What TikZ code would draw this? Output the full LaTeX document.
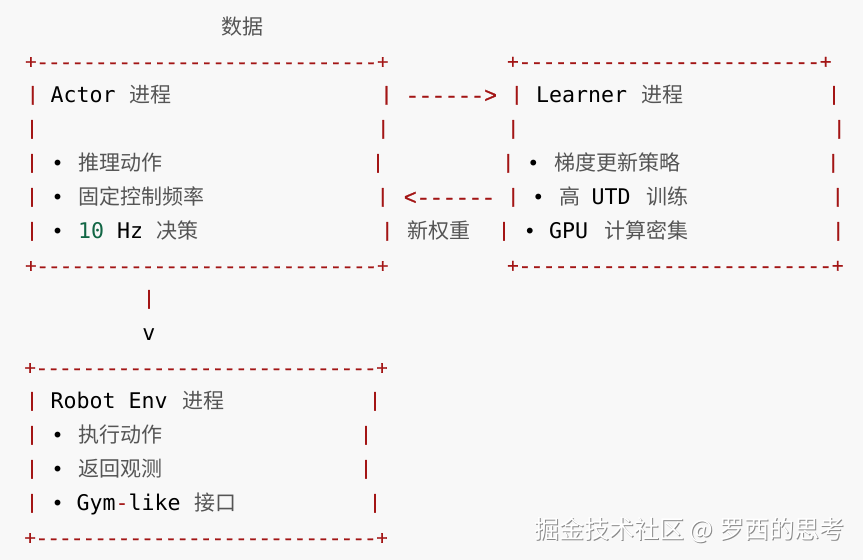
\documentclass[tikz,border=0pt]{standalone}
\usepackage{fontspec}
\usepackage{xcolor}
\setmonofont{Liberation Mono}[FakeBold=1.2]
\newfontfamily\codefont{DejaVu Sans Mono}
\newfontfamily\cjkfont{Noto Sans CJK SC}
\definecolor{bgpaper}{HTML}{F8F8F8}
\definecolor{linered}{HTML}{A31515}
\definecolor{numgreen}{HTML}{116644}
\definecolor{zhgray}{HTML}{555555}
\definecolor{markgray}{HTML}{8A8A8A}
\newcommand\dashrun[1]{\foreach\k in {1,...,#1}{-}}

\begin{document}
\begin{tikzpicture}[x=1pt, y=-1pt,
      txt/.style={inner sep=0pt, anchor=base west},
      border/.style={txt, text=linered, font=\ttfamily\fontsize{19.55}{20}\selectfont},
      rborder/.style={border, font=\ttfamily\fontsize{20.05}{20}\selectfont},
      flow/.style={border, font=\ttfamily\fontsize{21.7}{22}\selectfont},
      bar/.style={inner sep=0pt, anchor=base, yshift=2pt, text=linered,
                  font=\ttfamily\fontsize{20}{20}\selectfont},
      dot/.style={inner sep=0pt, anchor=base, font=\codefont\fontsize{20}{20}\selectfont},
      latin/.style={txt, text=black, font=\codefont\fontsize{21.6}{22}\selectfont},
      zh/.style={txt, text=zhgray, font=\cjkfont\fontsize{21}{22}\selectfont},
      wmark/.style={txt, font=\cjkfont\fontsize{25}{25}\selectfont},
    ]

    % Background
    \fill[bgpaper] (0,0) rectangle (863,560);

    % Label over the data arrow
    \node[zh] (datalbl) at (221, 34.5) {数据};

    % Actor box
    \node[border] (actortop) at (24.8, 68.5) {+\dashrun{29}+};
    \node[bar] (a2l) at (32.7, 102.5) {|};
    \node[latin] (actorname) at (50.5, 102.5) {Actor};
    \node[zh] (actorproc) at (129, 102.5) {进程};
    \node[bar] (a2r) at (386.5, 102.5) {|};
    \node[bar] (a3l) at (32, 136.5) {|};
    \node[bar] (a3r) at (383.3, 136.5) {|};
    \node[bar] (a4l) at (32, 170.5) {|};
    \node[dot] (a4d) at (57.7, 170.5) {•};
    \node[zh] (infer) at (78, 170.5) {推理动作};
    \node[bar] (a4r) at (378, 170.5) {|};
    \node[bar] (a5l) at (32, 204.5) {|};
    \node[dot] (a5d) at (57.7, 204.5) {•};
    \node[zh] (fixrate) at (78, 204.5) {固定控制频率};
    \node[bar] (a5r) at (382.7, 204.5) {|};
    \node[bar] (a6l) at (32, 238.5) {|};
    \node[dot] (a6d) at (57.7, 238.5) {•};
    \node[latin] (hz) at (78, 238.5) {\textcolor{numgreen}{10} Hz};
    \node[zh] (decide) at (156.5, 238.5) {决策};
    \node[bar] (a6r) at (387.3, 238.5) {|};
    \node[border] (actorbot) at (24.8, 272.5) {+\dashrun{29}+};

    % Data and weight flows
    \node[flow] (dataflow) at (405.7, 102.5) {------>};
    \node[flow] (weightflow) at (403.6, 204.5) {<------};
    \node[zh] (weightlbl) at (407, 238.5) {新权重};

    % Learner box
    \node[rborder] (learnertop) at (506.7, 68.5) {+\dashrun{25}+};
    \node[bar] (l2l) at (516.7, 102.5) {|};
    \node[latin] (learnername) at (536, 102.5) {Learner};
    \node[zh] (learnerproc) at (641, 102.5) {进程};
    \node[bar] (l2r) at (834, 102.5) {|};
    \node[bar] (l3l) at (513.3, 136.5) {|};
    \node[bar] (l3r) at (839.3, 136.5) {|};
    \node[bar] (l4l) at (508.3, 170.5) {|};
    \node[dot] (l4d) at (533.3, 170.5) {•};
    \node[zh] (grad) at (554, 170.5) {梯度更新策略};
    \node[bar] (l4r) at (833.3, 170.5) {|};
    \node[bar] (l5l) at (513.3, 204.5) {|};
    \node[dot] (l5d) at (538.3, 204.5) {•};
    \node[zh] (high) at (559, 204.5) {高};
    \node[latin] (utd) at (591.5, 204.5) {UTD};
    \node[zh] (train) at (646, 204.5) {训练};
    \node[bar] (l5r) at (837.7, 204.5) {|};
    \node[bar] (l6l) at (504, 238.5) {|};
    \node[dot] (l6d) at (530, 238.5) {•};
    \node[latin] (gpu) at (549, 238.5) {GPU};
    \node[zh] (compute) at (604, 238.5) {计算密集};
    \node[bar] (l6r) at (838.3, 238.5) {|};
    \node[rborder] (learnerbot) at (506.7, 272.5) {+\dashrun{26}+};

    % Actor down to Robot Env
    \node[bar] (downbar) at (149, 306.5) {|};
    \node[dot, font=\codefont\fontsize{21.6}{22}\selectfont] (downtip) at (149, 340.5) {v};

    % Robot Env box
    \node[border] (envtop) at (24.1, 374.5) {+\dashrun{29}+};
    \node[bar] (e1l) at (32, 408.5) {|};
    \node[latin] (envname) at (50.5, 408.5) {Robot Env};
    \node[zh] (envproc) at (182, 408.5) {进程};
    \node[bar] (e1r) at (375, 408.5) {|};
    \node[bar] (e2l) at (32, 442.5) {|};
    \node[dot] (e2d) at (57.7, 442.5) {•};
    \node[zh] (exec) at (78, 442.5) {执行动作};
    \node[bar] (e2r) at (366, 442.5) {|};
    \node[bar] (e3l) at (32, 476.5) {|};
    \node[dot] (e3d) at (57.7, 476.5) {•};
    \node[zh] (observe) at (78, 476.5) {返回观测};
    \node[bar] (e3r) at (366, 476.5) {|};
    \node[bar] (e4l) at (32, 510.5) {|};
    \node[dot] (e4d) at (57.7, 510.5) {•};
    \node[latin] (gym) at (76.5, 510.5) {Gym\textcolor{linered}{-}like};
    \node[zh] (iface) at (194, 510.5) {接口};
    \node[bar] (e4r) at (375, 510.5) {|};
    \node[border] (envbot) at (24.1, 544.5) {+\dashrun{29}+};

    % Watermark
    \node[wmark, text=markgray] (markshade) at (535, 539) {掘金技术社区 @ 罗西的思考};
    \node[wmark, text=white] (marktext) at (534, 538) {掘金技术社区 @ 罗西的思考};

\end{tikzpicture}
\end{document}
